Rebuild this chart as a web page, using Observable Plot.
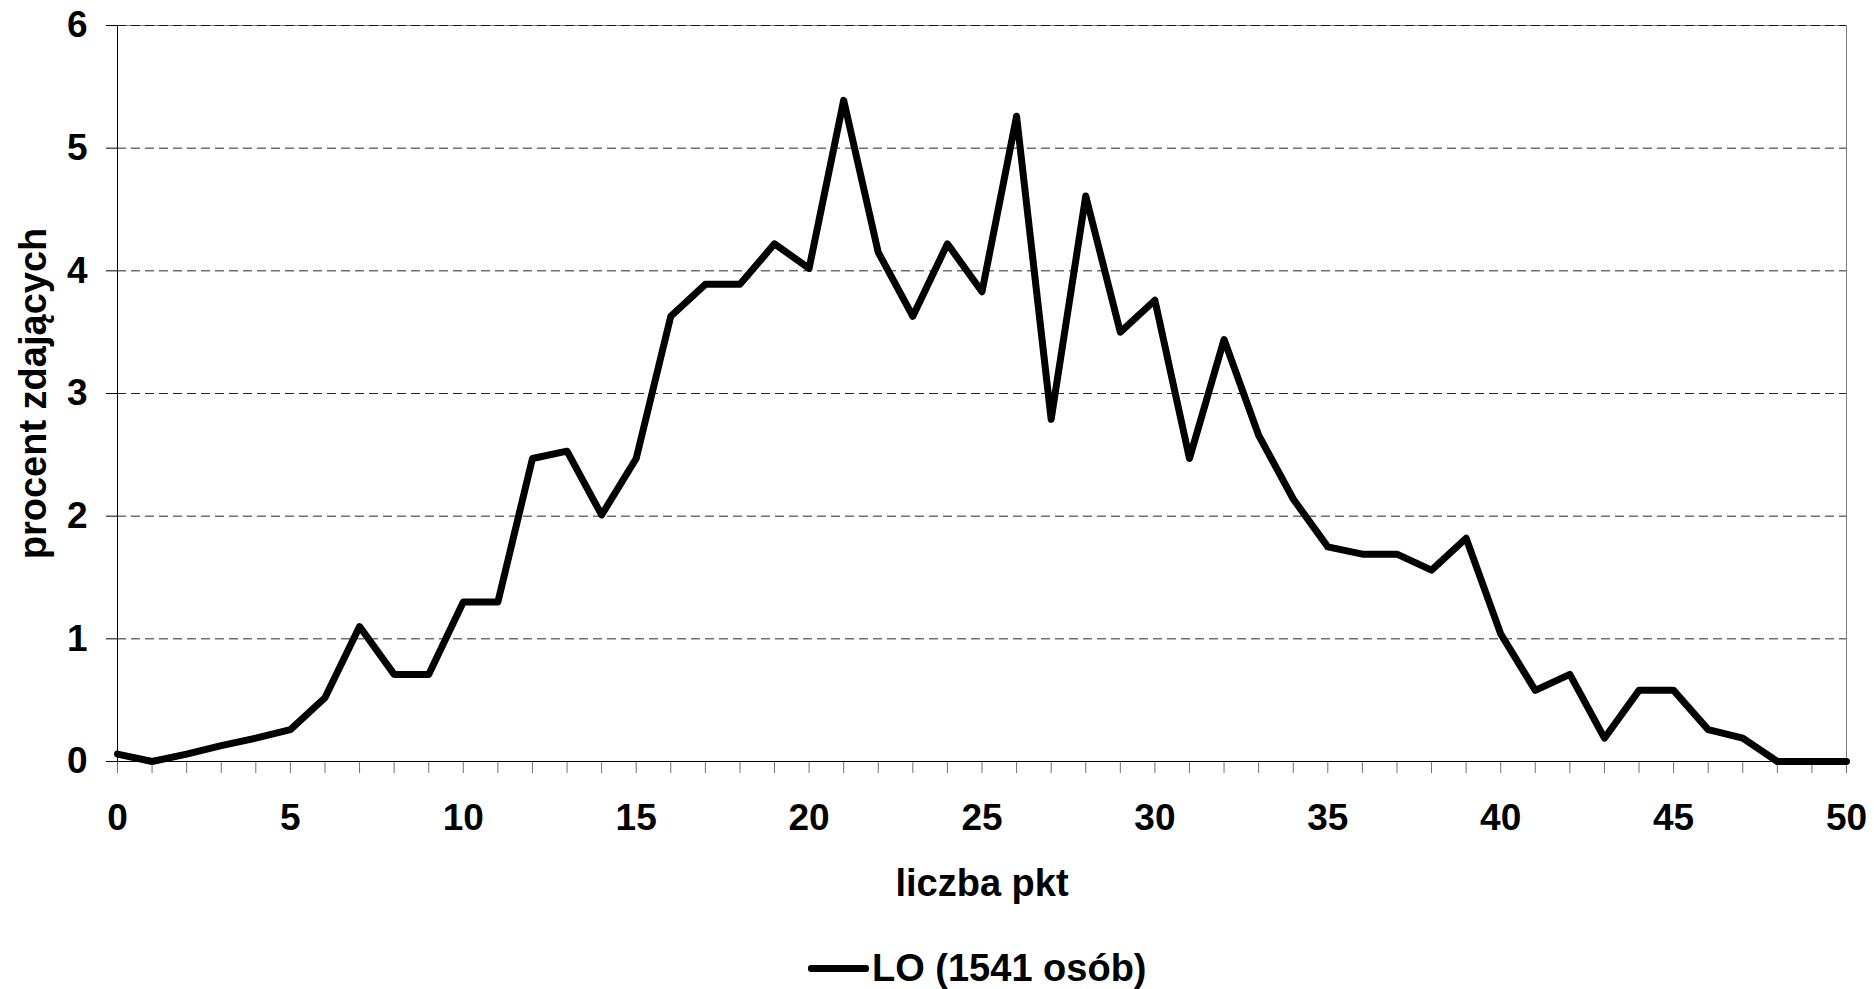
<!DOCTYPE html>
<html><head><meta charset="utf-8">
<script src="https://cdn.jsdelivr.net/npm/d3@7"></script>
<script src="https://cdn.jsdelivr.net/npm/@observablehq/plot@0.6"></script>
<style>
html,body{margin:0;padding:0;background:#fff;}
#wrap{position:relative;width:1874px;height:989px;font-family:Arial,"Liberation Sans",sans-serif;font-weight:bold;}
#legend{position:absolute;left:808px;top:945px;height:46px;display:flex;align-items:center;font-size:38px;color:#000;white-space:nowrap;}
#legend .sw{width:61px;height:7px;background:#000;border-radius:3px;margin-right:3px;}
</style></head><body><div id="wrap"><div id="chart"></div><div id="legend"></div></div>
<script>
const punkty = [0,1,2,3,4,5,6,7,8,9,10,11,12,13,14,15,16,17,18,19,20,21,22,23,24,25,26,27,28,29,30,31,32,33,34,35,36,37,38,39,40,41,42,43,44,45,46,47,48,49,50];
const procent = [0.06,0.00,0.06,0.13,0.19,0.26,0.52,1.10,0.71,0.71,1.30,1.30,2.47,2.53,2.01,2.47,3.63,3.89,3.89,4.22,4.02,5.39,4.15,3.63,4.22,3.83,5.26,2.79,4.61,3.50,3.76,2.47,3.44,2.66,2.14,1.75,1.69,1.69,1.56,1.82,1.04,0.58,0.71,0.19,0.58,0.58,0.26,0.19,0.00,0.00,0.00];
const xTicks = [0,5,10,15,20,25,30,35,40,45,50];
const yTicks = [0,1,2,3,4,5,6];
const seriesName = "LO (1541 osób)";
const xTitle = "liczba pkt";
const yTitle = "procent zdających";

const data = punkty.map((p, i) => ({p, v: procent[i]}));
const font = 'Arial, "Liberation Sans", sans-serif';

const chart = Plot.plot({
  width: 1874, height: 920,
  marginLeft: 117, marginRight: 28, marginTop: 25, marginBottom: 159,
  x: {domain: [0, 50]},
  y: {domain: [0, 6]},
  style: {fontFamily: font, fontWeight: "bold", fontSize: "36px", background: "#fff", color: "#000", overflow: "visible"},
  marks: [
    Plot.frame({stroke: "#808080"}),
    Plot.gridY(yTicks.filter(d => d > 0), {stroke: "#000", strokeOpacity: 0.85, strokeDasharray: "9,5"}),
    Plot.axisY(yTicks, {tickSize: 11, tickPadding: 19, tickFormat: d3.format("d"), fontSize: 37, fontWeight: "bold", label: null, stroke: "#000", fill: "#000"}),
    Plot.axisX(punkty, {tickSize: 12, tickFormat: () => "", label: null, stroke: "#707070"}),
    Plot.axisX(xTicks, {tickSize: 0, tickPadding: 42, tickFormat: d3.format("d"), fontSize: 37, fontWeight: "bold", label: null, fill: "#000"}),
    Plot.ruleX([0], {stroke: "#000"}),
    Plot.ruleY([0], {stroke: "#000"}),
    Plot.line(data, {x: "p", y: "v", stroke: "#000", strokeWidth: 7, strokeLinejoin: "round", strokeLinecap: "round"}),
    Plot.text([xTitle], {frameAnchor: "bottom", dy: 122, lineAnchor: "middle", textAnchor: "middle", fontSize: 38, fontWeight: "bold", fill: "#000"}),
    Plot.text([yTitle], {frameAnchor: "left", dx: -84, rotate: -90, lineAnchor: "middle", textAnchor: "middle", fontSize: 38, fontWeight: "bold", fill: "#000"})
  ]
});
document.getElementById("chart").appendChild(chart);

const legend = document.getElementById("legend");
const sw = document.createElement("span"); sw.className = "sw";
const lab = document.createElement("span"); lab.textContent = seriesName;
legend.appendChild(sw); legend.appendChild(lab);
</script>
</body></html>
